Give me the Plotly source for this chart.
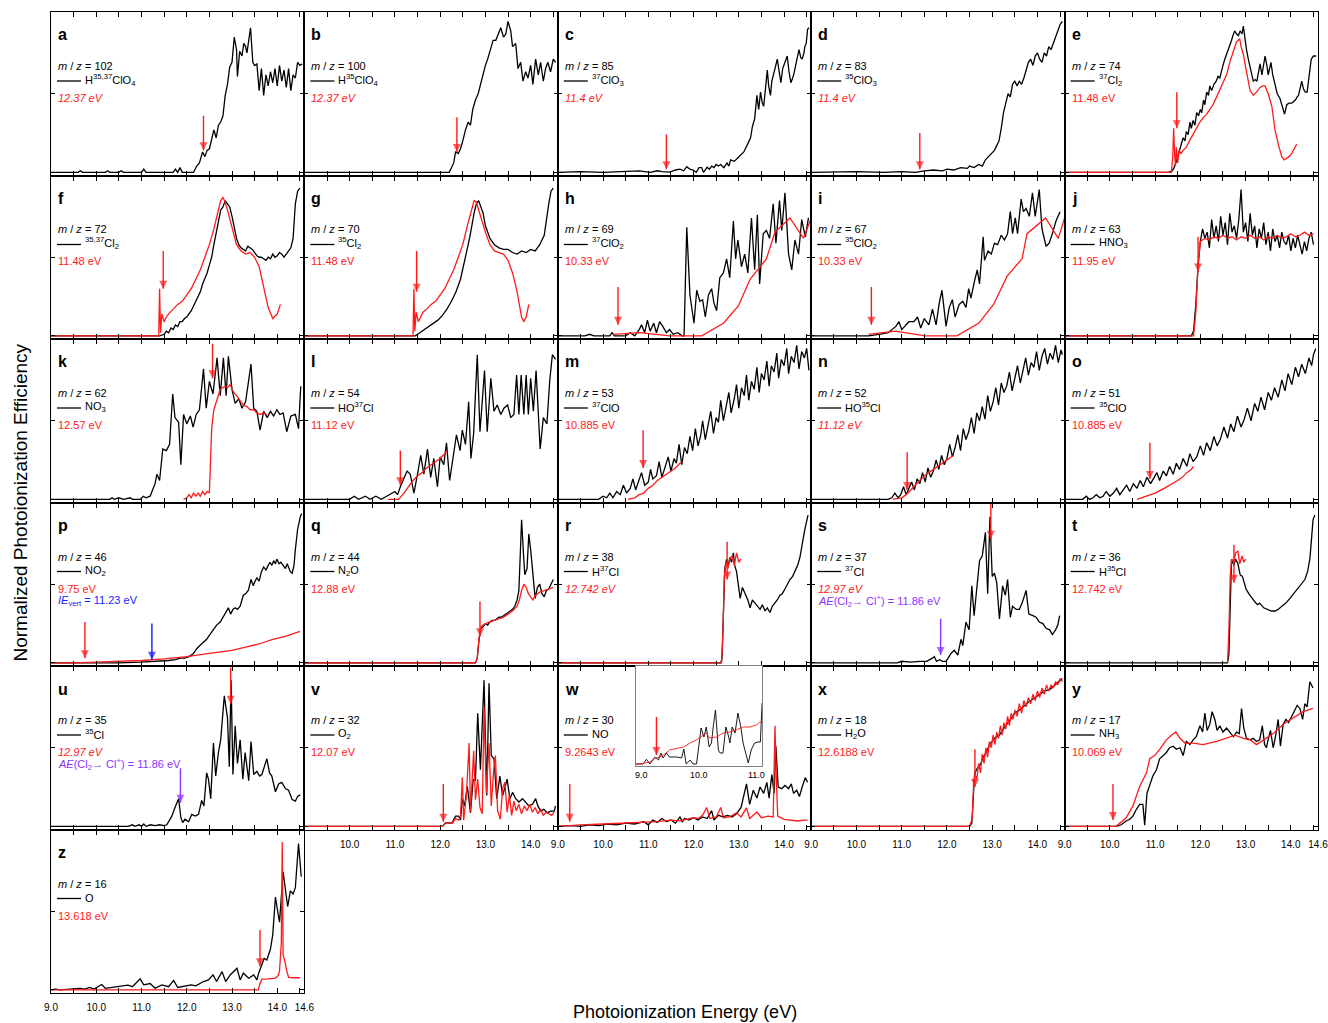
import plotly.graph_objects as go

# ---------------------------------------------------------------- colours / fonts
RED = "#ff1a1a"
BLACK = "#000000"
BLUE = "#1a1aff"
PURPLE = "#8c33ff"
FONT = "Liberation Sans, Arial, Helvetica, sans-serif"

# ---------------------------------------------------------------- measured PIE curves (photon energy eV, normalized signal)
a_black = [(9.0,0),(9.6,0),(9.65,1),(9.7,0),(10.2,0),(10.25,1),(10.3,0),(10.5,0),(10.55,1),(10.6,0),(11.0,0),(11.05,2),(11.1,0),(11.7,0),(11.75,2),(11.8,0),(11.85,3),(11.9,0),(12.15,0),(12.22,4),(12.28,6),(12.35,13),(12.4,10),(12.45,14),(12.5,15),(12.55,22),(12.6,27),(12.65,22),(12.7,30),(12.75,32),(12.8,36),(12.85,49),(12.9,56),(12.95,67),(13.0,70),(13.05,86),(13.1,78),(13.12,61),(13.17,77),(13.22,74),(13.26,82),(13.3,80),(13.33,76),(13.37,84),(13.41,92),(13.46,70),(13.5,68),(13.55,69),(13.6,52),(13.65,66),(13.7,49),(13.75,62),(13.8,55),(13.85,64),(13.9,57),(13.95,66),(14.0,55),(14.05,68),(14.1,58),(14.15,65),(14.2,54),(14.25,66),(14.3,52),(14.35,62),(14.4,60),(14.45,70),(14.5,68),(14.55,69)]

b_black = [(9.0,0),(12.2,0),(12.3,6),(12.34,13),(12.4,12),(12.45,15),(12.5,20),(12.56,27),(12.62,32),(12.67,30),(12.72,40),(12.78,46),(12.84,50),(12.89,56),(12.95,62),(13.0,68),(13.05,72),(13.11,79),(13.17,84),(13.23,84),(13.28,88),(13.34,92),(13.4,86),(13.45,88),(13.5,96),(13.56,90),(13.6,80),(13.67,82),(13.72,66),(13.78,70),(13.83,58),(13.89,64),(13.94,60),(14.0,68),(14.05,56),(14.11,72),(14.17,62),(14.22,70),(14.28,58),(14.33,66),(14.38,70),(14.44,64),(14.5,72),(14.55,70)]

c_black = [(9.0,0),(9.5,0.5),(10.0,0),(10.4,0.5),(10.8,1),(11.04,0),(11.2,1),(11.3,0.5),(11.48,0.2),(11.6,1.5),(11.7,2),(11.78,1),(11.85,3.6),(11.92,2),(11.99,1.5),(12.06,0),(12.12,3),(12.18,3),(12.22,0),(12.3,3.2),(12.35,2),(12.4,4),(12.45,3),(12.5,5),(12.55,4),(12.6,5),(12.67,3),(12.74,6),(12.78,4),(12.82,8),(12.9,7),(12.97,9),(13.04,11),(13.11,13),(13.18,17),(13.26,22),(13.3,29),(13.35,34),(13.4,49),(13.44,40),(13.48,51),(13.52,44),(13.55,42),(13.6,58),(13.63,65),(13.66,55),(13.7,49),(13.73,58),(13.76,61),(13.8,66),(13.85,72),(13.89,63),(13.93,57),(13.97,66),(14.02,70),(14.07,74),(14.11,64),(14.15,57),(14.19,60),(14.22,63),(14.27,70),(14.33,78),(14.37,73),(14.4,72),(14.44,76),(14.46,80),(14.49,82),(14.52,91),(14.55,92)]

d_black = [(9.0,0),(10.0,0.5),(10.6,0),(11.0,0.5),(11.3,0),(11.5,1),(11.7,1.5),(11.9,1),(12.0,2),(12.15,1.5),(12.3,3),(12.45,2.5),(12.5,4),(12.6,3),(12.7,5),(12.78,4),(12.85,8),(12.95,11),(13.05,14),(13.1,17),(13.15,20),(13.2,28),(13.25,38),(13.3,44),(13.35,50),(13.4,48),(13.45,56),(13.5,58),(13.55,55),(13.6,58),(13.65,56),(13.7,60),(13.75,66),(13.8,70),(13.85,72),(13.9,68),(13.95,74),(14.0,76),(14.05,72),(14.1,70),(14.15,76),(14.2,74),(14.25,80),(14.3,78),(14.35,82),(14.4,86),(14.45,90),(14.5,94),(14.55,96)]

e_black = [(9.0,0),(11.3,0),(11.38,1),(11.42,3),(11.47,7),(11.54,13.5),(11.58,18),(11.62,22),(11.66,20),(11.69,26),(11.73,24),(11.77,32),(11.8,28),(11.84,33),(11.88,30),(11.92,38),(11.96,36),(12.0,40),(12.03,38),(12.07,46),(12.1,43),(12.14,51),(12.18,49),(12.21,55),(12.25,52),(12.3,56),(12.35,58),(12.39,61),(12.43,60),(12.47,66),(12.5,68),(12.54,72),(12.58,75),(12.61,78),(12.65,80),(12.69,84),(12.72,87),(12.76,90),(12.8,88),(12.84,87),(12.88,90),(12.92,88),(12.95,93),(12.98,86),(13.02,78),(13.06,72),(13.1,66),(13.13,62),(13.17,58),(13.21,59),(13.25,58),(13.28,63),(13.32,69),(13.36,62),(13.4,70),(13.43,74),(13.47,68),(13.5,62),(13.53,66),(13.56,70),(13.6,62),(13.65,55),(13.7,50),(13.76,47),(13.81,42),(13.86,37),(13.91,43),(13.96,44),(14.02,44),(14.06,45),(14.1,46),(14.14,48),(14.17,49),(14.21,54),(14.24,58),(14.28,53),(14.32,51),(14.36,51),(14.4,60),(14.45,72),(14.5,74),(14.56,74)]
e_red = [(9.0,0),(11.36,0),(11.39,10),(11.41,28),(11.43,12),(11.45,4),(11.47,16),(11.5,6),(11.53,14),(11.57,12),(11.62,14),(11.69,16),(11.76,20),(11.84,24),(11.92,28),(11.99,32),(12.07,35),(12.14,37),(12.21,40),(12.28,43),(12.36,48),(12.43,52),(12.5,57),(12.58,62),(12.65,70),(12.73,77),(12.8,83),(12.84,84),(12.87,85),(12.9,80),(12.95,75),(13.02,64),(13.1,52),(13.17,49),(13.24,51),(13.32,54),(13.38,55),(13.43,55),(13.5,50),(13.58,42),(13.65,27),(13.73,17),(13.8,10),(13.85,8),(13.91,9),(13.96,10),(14.02,12),(14.08,15),(14.13,18)]

f_black = [(9.0,0),(11.4,0),(11.5,1),(11.55,3),(11.6,2),(11.65,5),(11.7,4),(11.75,7),(11.8,6),(11.85,9),(11.9,9),(11.95,11),(12.0,12),(12.05,14),(12.1,16),(12.15,19),(12.2,22),(12.25,25),(12.3,28),(12.35,33),(12.4,36),(12.45,40),(12.5,45),(12.55,50),(12.6,58),(12.65,66),(12.7,74),(12.75,80),(12.8,82),(12.85,86),(12.9,84),(12.95,82),(13.0,76),(13.05,68),(13.1,62),(13.15,58),(13.2,56),(13.25,55),(13.3,54),(13.35,57),(13.4,56),(13.45,55),(13.5,53),(13.55,51),(13.6,50),(13.65,50),(13.7,49),(13.75,48),(13.8,50),(13.85,49),(13.9,52),(13.95,50),(14.0,51),(14.05,53),(14.1,52),(14.15,50),(14.2,52),(14.25,54),(14.3,56),(14.35,62),(14.4,84),(14.45,92),(14.5,94)]
f_red = [(9.0,0),(11.38,0),(11.4,30),(11.42,2),(11.45,14),(11.5,9),(11.55,12),(11.6,14),(11.7,17),(11.8,20),(11.9,22),(12.0,26),(12.1,30),(12.2,36),(12.3,42),(12.4,50),(12.5,58),(12.6,68),(12.7,80),(12.75,86),(12.8,88),(12.85,85),(12.9,80),(13.0,68),(13.1,58),(13.2,54),(13.3,52),(13.4,53),(13.5,50),(13.6,44),(13.7,32),(13.8,18),(13.9,11),(14.0,14),(14.07,20)]

g_black = [(9.0,0),(11.45,0),(11.55,2),(11.65,4),(11.75,6),(11.85,8),(11.95,10),(12.05,13),(12.15,17),(12.25,22),(12.35,28),(12.45,36),(12.55,48),(12.65,62),(12.75,78),(12.8,84),(12.85,86),(12.9,82),(12.95,78),(13.0,70),(13.1,62),(13.2,58),(13.3,56),(13.4,55),(13.5,55),(13.6,53),(13.7,52),(13.8,54),(13.9,53),(14.0,55),(14.1,54),(14.2,58),(14.3,64),(14.4,84),(14.45,92),(14.5,94)]
g_red = [(9.0,0),(11.4,0),(11.42,30),(11.44,3),(11.47,15),(11.52,9),(11.57,12),(11.62,15),(11.7,17),(11.8,20),(11.9,22),(12.0,26),(12.1,30),(12.2,36),(12.3,42),(12.4,50),(12.5,58),(12.6,70),(12.7,82),(12.75,86),(12.8,85),(12.85,80),(12.9,76),(13.0,66),(13.1,58),(13.2,54),(13.3,53),(13.4,52),(13.5,48),(13.6,40),(13.7,28),(13.8,12),(13.85,9),(13.9,12),(13.96,20)]

h_black = [(9.0,0),(9.6,0),(9.7,1),(9.8,0),(10.15,0),(10.2,2),(10.25,0),(10.5,0),(10.6,2),(10.7,0),(10.8,4),(10.85,7),(10.92,2),(10.98,10),(11.04,3),(11.12,8),(11.18,2),(11.25,9),(11.32,6),(11.4,2),(11.47,4),(11.55,1),(11.65,2),(11.75,0),(11.79,0),(11.85,69),(11.92,26),(12.01,8),(12.07,29),(12.14,22),(12.2,23),(12.26,12),(12.33,26),(12.4,30),(12.45,21),(12.51,16),(12.58,37),(12.66,40),(12.73,49),(12.8,37),(12.88,73),(12.93,49),(12.98,61),(13.06,44),(13.13,52),(13.2,40),(13.28,75),(13.35,42),(13.41,77),(13.46,33),(13.54,65),(13.61,67),(13.68,62),(13.76,84),(13.82,59),(13.9,86),(13.95,67),(14.02,91),(14.1,52),(14.17,42),(14.24,61),(14.32,52),(14.39,74),(14.47,63),(14.54,75)]
h_red = [(10.22,1),(10.81,2),(11.48,0),(12.18,0),(12.66,8),(12.99,19),(13.25,36),(13.61,49),(13.8,66),(14.13,75),(14.43,62),(14.6,75)]

i_black = [(9.0,0),(10.27,0),(10.5,1),(10.7,2),(10.87,6),(10.94,9),(11.0,4),(11.16,9),(11.27,9),(11.35,12),(11.42,5),(11.5,11),(11.6,7),(11.68,17),(11.76,7),(11.83,21),(11.89,29),(11.94,18),(11.98,6),(12.05,18),(12.12,23),(12.18,12),(12.27,20),(12.35,22),(12.42,18),(12.48,30),(12.53,24),(12.61,35),(12.67,42),(12.72,33),(12.8,63),(12.83,48),(12.91,54),(12.98,52),(13.05,59),(13.12,58),(13.2,64),(13.27,61),(13.34,65),(13.4,79),(13.45,65),(13.51,75),(13.56,65),(13.64,87),(13.69,79),(13.75,81),(13.82,76),(13.89,91),(13.95,76),(14.04,93),(14.1,68),(14.19,57),(14.26,59),(14.33,65),(14.41,73),(14.5,79)]
i_red = [(10.27,1),(10.86,3),(11.52,0),(12.22,0),(12.7,8),(13.03,20),(13.33,38),(13.66,49),(13.77,65),(14.18,75),(14.46,62),(14.6,75)]

j_black = [(9.0,0),(11.8,0),(11.85,3),(11.9,20),(11.95,45),(12.0,60),(12.05,68),(12.1,62),(12.15,66),(12.2,56),(12.25,74),(12.3,62),(12.35,70),(12.4,60),(12.45,76),(12.5,64),(12.55,72),(12.6,58),(12.65,78),(12.7,66),(12.75,70),(12.8,62),(12.85,74),(12.9,93),(12.95,66),(13.0,72),(13.05,60),(13.1,78),(13.15,64),(13.2,70),(13.25,56),(13.3,68),(13.35,62),(13.4,72),(13.45,58),(13.5,66),(13.55,54),(13.6,68),(13.65,60),(13.7,64),(13.75,56),(13.8,66),(13.85,60),(13.9,58),(13.95,64),(14.0,54),(14.05,62),(14.1,56),(14.15,64),(14.2,58),(14.25,52),(14.3,60),(14.35,54),(14.4,62),(14.45,66),(14.5,58)]
j_red = [(9.0,0),(11.85,0),(11.9,15),(11.95,45),(12.0,60),(12.1,62),(12.2,61),(12.3,63),(12.4,62),(12.5,64),(12.6,62),(12.7,63),(12.8,61),(12.9,63),(13.0,62),(13.1,64),(13.2,62),(13.3,63),(13.4,61),(13.5,63),(13.6,62),(13.7,64),(13.8,62),(13.9,63),(14.0,65),(14.1,63),(14.2,64),(14.3,66),(14.4,64),(14.5,65)]

k_black = [(9.0,0),(10.3,0),(10.35,1),(10.4,0),(10.5,1),(10.6,0),(10.75,1),(10.8,0),(10.97,0),(11.04,2),(11.1,1),(11.19,2),(11.26,7),(11.3,10),(11.34,16),(11.4,12),(11.47,32),(11.55,31),(11.62,35),(11.69,67),(11.74,52),(11.82,49),(11.87,22),(11.93,54),(12.0,48),(12.08,53),(12.14,46),(12.21,54),(12.28,57),(12.37,83),(12.43,58),(12.5,75),(12.58,67),(12.67,90),(12.74,66),(12.81,90),(12.87,66),(12.92,91),(13.0,70),(13.07,61),(13.15,64),(13.22,58),(13.3,62),(13.42,86),(13.48,58),(13.55,56),(13.62,44),(13.7,56),(13.78,52),(13.85,56),(13.92,53),(13.99,57),(14.06,54),(14.13,55),(14.21,43),(14.3,53),(14.4,54),(14.47,45),(14.52,72)]
k_red = [(11.93,0),(12.0,1),(12.05,3),(12.1,1),(12.15,4),(12.2,2),(12.25,4),(12.3,2),(12.35,5),(12.4,3),(12.45,5),(12.5,4),(12.52,20),(12.55,45),(12.6,57),(12.65,62),(12.7,66),(12.74,70),(12.8,71),(12.85,72),(12.9,71),(12.96,73),(13.0,70),(13.04,68),(13.1,66),(13.19,62),(13.25,60),(13.33,59),(13.4,57),(13.48,57),(13.55,55),(13.62,54),(13.7,55),(13.77,54)]

l_black = [(9.0,0),(10.0,0),(10.1,2),(10.2,0),(10.35,2),(10.45,0),(10.58,2),(10.7,0),(11.0,5),(11.06,3),(11.12,8),(11.2,14),(11.27,18),(11.34,16),(11.42,4),(11.5,16),(11.57,28),(11.64,16),(11.72,32),(11.79,14),(11.86,26),(11.94,8),(12.0,27),(12.08,22),(12.14,36),(12.21,12),(12.29,27),(12.36,41),(12.44,31),(12.49,44),(12.56,35),(12.63,62),(12.68,26),(12.74,42),(12.82,92),(12.88,43),(12.93,62),(12.98,82),(13.04,43),(13.12,77),(13.19,56),(13.26,60),(13.34,54),(13.41,58),(13.49,60),(13.56,52),(13.63,54),(13.69,79),(13.74,54),(13.79,79),(13.85,54),(13.9,79),(13.95,54),(14.0,77),(14.06,56),(14.12,82),(14.21,32),(14.28,52),(14.36,48),(14.42,75),(14.48,92),(14.55,89)]
l_red = [(10.85,0),(11.08,0),(11.2,4),(11.3,8),(11.4,12),(11.5,15),(11.6,17),(11.7,20),(11.8,22),(11.9,24),(12.0,26),(12.1,29),(12.15,31)]

m_black = [(9.0,0),(9.9,0),(10.0,2),(10.08,1),(10.15,4),(10.22,1),(10.3,5),(10.38,3),(10.45,9),(10.52,4),(10.6,7),(10.66,13),(10.72,6),(10.8,12),(10.85,17),(10.92,9),(11.0,11),(11.05,19),(11.1,13),(11.18,15),(11.24,24),(11.3,14),(11.38,21),(11.44,27),(11.5,18),(11.57,26),(11.62,23),(11.68,35),(11.74,22),(11.8,33),(11.86,29),(11.92,40),(11.98,31),(12.04,45),(12.1,34),(12.16,41),(12.2,50),(12.26,38),(12.32,47),(12.38,56),(12.44,42),(12.5,52),(12.55,49),(12.6,63),(12.66,50),(12.72,58),(12.78,68),(12.83,55),(12.9,64),(12.95,73),(13.0,58),(13.06,71),(13.12,66),(13.17,79),(13.22,63),(13.28,75),(13.34,70),(13.4,84),(13.45,68),(13.5,80),(13.56,76),(13.62,88),(13.67,72),(13.72,85),(13.78,81),(13.84,93),(13.88,77),(13.94,89),(14.0,85),(14.06,96),(14.1,80),(14.16,91),(14.22,87),(14.28,98),(14.33,83),(14.39,94),(14.45,90),(14.5,96),(14.55,82)]
m_red = [(10.55,0),(10.7,1),(10.8,3),(10.9,4),(11.0,7),(11.1,9),(11.2,12),(11.3,14),(11.4,16),(11.5,18),(11.6,20),(11.7,23),(11.75,24)]

n_black = [(9.0,0),(10.7,0),(10.78,1),(10.85,4),(10.92,1),(10.98,3),(11.04,8),(11.1,3),(11.16,7),(11.22,11),(11.28,6),(11.34,13),(11.4,10),(11.46,17),(11.52,11),(11.58,20),(11.64,14),(11.7,18),(11.76,25),(11.82,19),(11.88,28),(11.94,22),(12.0,26),(12.06,35),(12.12,27),(12.18,33),(12.24,41),(12.3,31),(12.36,45),(12.42,38),(12.48,43),(12.54,52),(12.6,42),(12.66,55),(12.72,50),(12.78,59),(12.84,51),(12.9,66),(12.96,56),(13.02,62),(13.08,71),(13.14,60),(13.2,74),(13.26,68),(13.32,72),(13.38,81),(13.44,69),(13.5,78),(13.56,85),(13.62,74),(13.68,83),(13.74,90),(13.8,79),(13.86,87),(13.92,84),(13.98,94),(14.04,82),(14.1,91),(14.16,96),(14.22,86),(14.28,93),(14.34,89),(14.4,98),(14.46,87),(14.52,95),(14.55,92)]
n_red = [(10.8,0),(11.0,1),(11.1,3),(11.2,6),(11.3,9),(11.4,12),(11.5,15),(11.6,17),(11.7,19),(11.8,21),(11.9,23),(12.0,25),(12.1,27),(12.15,28)]

o_black = [(9.0,0),(9.4,0),(9.48,2),(9.55,0),(9.63,1),(9.7,3),(9.78,1),(9.85,2),(9.92,5),(10.0,2),(10.08,4),(10.15,7),(10.22,3),(10.3,6),(10.37,9),(10.44,5),(10.52,10),(10.6,7),(10.67,12),(10.74,8),(10.82,14),(10.9,10),(10.96,13),(11.04,17),(11.1,12),(11.18,18),(11.25,15),(11.32,21),(11.4,16),(11.47,23),(11.54,19),(11.62,26),(11.7,21),(11.77,29),(11.84,24),(11.92,27),(12.0,34),(12.07,28),(12.14,36),(12.22,31),(12.3,40),(12.37,34),(12.44,38),(12.52,46),(12.6,39),(12.67,48),(12.74,43),(12.82,53),(12.9,46),(12.97,51),(13.04,58),(13.12,50),(13.2,61),(13.27,56),(13.34,65),(13.42,57),(13.5,68),(13.57,63),(13.64,71),(13.72,65),(13.8,76),(13.87,69),(13.94,80),(14.02,73),(14.1,84),(14.17,78),(14.24,86),(14.32,80),(14.4,90),(14.46,85),(14.5,92),(14.55,96)]
o_red = [(10.6,0),(10.8,2),(11.0,4),(11.2,7),(11.4,10),(11.5,12),(11.6,14),(11.7,17),(11.8,19),(11.85,21)]

p_black = [(9.0,0),(10.5,0),(11.0,0.5),(11.4,1),(11.6,1.5),(11.75,2),(11.85,3),(11.95,3),(12.05,4),(12.15,6),(12.22,9),(12.29,11),(12.36,13),(12.44,15),(12.51,18),(12.59,21),(12.66,24),(12.74,26),(12.8,29),(12.85,31),(12.92,35),(12.97,31),(13.02,34),(13.07,35),(13.12,34),(13.18,36),(13.22,40),(13.25,43),(13.3,44),(13.36,46),(13.42,53),(13.47,49),(13.51,52),(13.55,54),(13.6,52),(13.65,58),(13.7,61),(13.75,59),(13.8,62),(13.84,64),(13.88,62),(13.92,65),(13.96,63),(13.99,66),(14.04,63),(14.08,64),(14.13,62),(14.18,60),(14.22,63),(14.25,61),(14.29,58),(14.33,57),(14.37,62),(14.4,72),(14.45,85),(14.51,93),(14.54,95)]
p_red = [(9.0,0),(9.5,0),(10.0,0.5),(10.5,1),(11.0,1.5),(11.5,2.5),(12.0,4),(12.5,6),(13.0,8),(13.3,10),(13.6,12),(13.9,15),(14.2,17),(14.5,20)]

q_black = [(9.0,0),(12.78,0),(12.82,3),(12.86,15),(12.9,22),(12.95,23),(13.0,25),(13.05,24),(13.1,26),(13.15,27),(13.2,27),(13.25,28),(13.3,29),(13.35,29),(13.4,30),(13.45,31),(13.5,32),(13.55,33),(13.6,34),(13.65,36),(13.7,40),(13.74,46),(13.78,70),(13.8,91),(13.84,70),(13.87,56),(13.92,60),(13.96,82),(14.0,72),(14.05,55),(14.1,41),(14.15,48),(14.2,50),(14.25,44),(14.3,42),(14.35,46),(14.4,47),(14.45,50),(14.5,53)]
q_red = [(9.0,0),(12.78,0),(12.82,3),(12.86,16),(12.9,23),(12.95,24),(13.0,25),(13.1,26),(13.2,27),(13.3,28),(13.4,29),(13.5,31),(13.6,33),(13.7,36),(13.75,40),(13.8,46),(13.85,50),(13.9,48),(13.95,44),(14.0,42),(14.05,40),(14.1,43),(14.2,45),(14.3,46),(14.4,47),(14.5,48)]

r_black = [(9.0,0),(12.6,0),(12.63,3),(12.66,30),(12.69,60),(12.73,66),(12.77,62),(12.8,67),(12.84,64),(12.88,70),(12.91,62),(12.95,58),(13.0,45),(13.03,41),(13.08,48),(13.14,44),(13.2,40),(13.25,35),(13.3,40),(13.36,38),(13.42,36),(13.47,34),(13.52,37),(13.58,33),(13.63,35),(13.69,32),(13.74,36),(13.8,38),(13.85,40),(13.91,43),(13.96,44),(14.02,47),(14.08,50),(14.13,53),(14.19,55),(14.24,58),(14.3,62),(14.35,67),(14.4,76),(14.46,85),(14.53,94)]
r_red = [(9.0,0),(12.62,0),(12.65,20),(12.68,55),(12.72,64),(12.76,60),(12.8,66),(12.85,68),(12.9,62),(12.95,70),(13.0,64),(13.05,66)]

s_black = [(9.0,0),(10.9,0),(11.0,1),(11.2,0.5),(11.4,1),(11.55,1),(11.68,3),(11.72,4),(11.77,1),(11.84,2),(11.9,1),(11.98,1),(12.09,6),(12.16,8),(12.24,5),(12.31,15),(12.35,11),(12.42,26),(12.49,21),(12.55,49),(12.6,30),(12.66,47),(12.72,65),(12.78,68),(12.85,83),(12.9,44),(12.95,93),(13.0,55),(13.05,57),(13.1,51),(13.16,28),(13.23,49),(13.29,43),(13.34,53),(13.4,29),(13.45,36),(13.53,34),(13.6,34),(13.66,38),(13.75,46),(13.81,31),(13.9,30),(13.97,29),(14.04,26),(14.12,25),(14.19,22),(14.27,21),(14.33,18),(14.4,21),(14.45,24),(14.49,30)]

t_black = [(9.0,0),(12.6,0),(12.63,5),(12.66,40),(12.69,66),(12.74,62),(12.78,66),(12.83,63),(12.88,56),(12.93,55),(12.97,50),(13.01,47),(13.07,44),(13.14,41),(13.2,39),(13.26,37),(13.31,38),(13.4,35),(13.49,34),(13.57,33),(13.65,33),(13.72,34),(13.8,36),(13.89,38),(13.98,41),(14.06,44),(14.15,47),(14.22,50),(14.31,53),(14.37,58),(14.42,66),(14.46,80),(14.49,91),(14.53,94)]
t_red = [(12.6,0),(12.63,20),(12.66,55),(12.69,66),(12.74,64),(12.78,70),(12.83,71),(12.87,63),(12.92,68),(12.96,64),(13.0,66)]

u_black = [(9.0,0),(10.7,0),(10.8,1),(10.85,0),(10.95,1),(11.0,0),(11.05,1.5),(11.1,0),(11.2,1),(11.3,0.5),(11.4,1),(11.5,0.5),(11.56,1),(11.67,6.5),(11.74,12),(11.82,17.6),(11.87,5.5),(11.91,2.4),(11.96,4.5),(12.04,2.9),(12.11,7.6),(12.19,6.5),(12.26,7.6),(12.33,16.5),(12.38,13),(12.44,34),(12.48,30),(12.53,17.6),(12.59,53),(12.64,32),(12.7,47),(12.75,55),(12.83,83),(12.9,69),(12.94,38),(12.98,93),(13.02,33),(13.07,64),(13.12,40),(13.18,55),(13.24,30),(13.29,47),(13.37,29),(13.42,54),(13.48,33),(13.55,35),(13.61,32),(13.66,33),(13.77,43),(13.83,34),(13.88,32),(13.96,22),(14.03,27),(14.1,28),(14.18,24),(14.25,23),(14.33,17),(14.4,16),(14.45,19),(14.51,20)]

v_black = [(9.0,0),(12.05,0),(12.12,2.4),(12.2,2),(12.27,2.4),(12.34,6.5),(12.41,6.5),(12.45,4),(12.49,17.6),(12.54,13),(12.6,25.5),(12.67,8.6),(12.73,30),(12.78,29),(12.83,72),(12.89,36),(12.97,93),(13.03,19.6),(13.08,91),(13.13,45),(13.19,43),(13.25,17.6),(13.32,32),(13.38,19.6),(13.44,25.5),(13.48,30),(13.54,17.6),(13.6,21.6),(13.67,17.6),(13.74,15.5),(13.82,17.6),(13.89,15.5),(13.96,13),(14.04,14),(14.11,17.6),(14.16,13),(14.22,9.7),(14.29,10.8),(14.37,8.6),(14.44,9.7),(14.52,9.7),(14.55,13)]
v_red = [(9.0,0),(12.05,0),(12.12,2),(12.2,2.5),(12.27,2),(12.34,5),(12.41,4),(12.45,6),(12.49,31),(12.52,4),(12.58,20),(12.64,53),(12.67,9),(12.71,36),(12.74,48),(12.78,17),(12.83,30),(12.88,12),(12.93,8),(12.97,76),(13.02,21),(13.08,53),(13.13,13),(13.18,35),(13.22,45),(13.27,10),(13.33,4.5),(13.38,24),(13.43,28),(13.48,9),(13.53,20),(13.58,7),(13.63,16),(13.68,10),(13.74,14),(13.8,8),(13.86,13),(13.92,10),(13.98,14),(14.04,9),(14.1,12),(14.16,8),(14.22,11),(14.28,7),(14.34,9),(14.4,8),(14.46,7),(14.52,9)]

w_black = [(9.0,0),(9.3,0.5),(9.5,0),(9.7,1),(9.9,0.5),(10.1,1.5),(10.3,1),(10.5,2),(10.7,1.5),(10.9,3),(11.0,1),(11.1,4),(11.2,2.5),(11.3,5),(11.4,3),(11.5,4),(11.6,2),(11.7,6),(11.75,3),(11.8,5),(11.9,4),(12.0,5.5),(12.1,4),(12.2,6),(12.3,5),(12.4,10),(12.45,4),(12.55,7),(12.65,6),(12.75,7),(12.85,6),(12.95,8),(13.05,12),(13.1,17.6),(13.17,27),(13.24,14),(13.32,23),(13.4,18),(13.47,25),(13.55,21),(13.62,28),(13.67,18),(13.73,33),(13.78,21),(13.82,51),(13.87,25),(13.95,24),(14.02,26),(14.1,24),(14.16,27),(14.21,21),(14.28,23),(14.34,19),(14.4,25),(14.47,31),(14.52,28)]
w_red = [(9.0,0),(9.5,1),(10.0,1.5),(10.5,2),(10.97,2.4),(11.2,3),(11.5,4),(11.7,3.5),(11.99,5.5),(12.1,5),(12.2,7),(12.29,12),(12.36,5),(12.5,6),(12.6,12),(12.66,5.5),(12.8,6),(12.95,8.6),(13.05,6),(13.17,11.8),(13.24,5),(13.4,9.1),(13.5,5.5),(13.65,6.5),(13.76,6),(13.78,40),(13.8,64),(13.83,30),(13.86,6.5),(14.0,4.5),(14.15,4),(14.3,3.4),(14.45,4),(14.52,3.9)]

# NO threshold region (inset of panel w)
w_inset_black = [(8.9,0),(9.03,0),(9.09,4.7),(9.15,0),(9.24,7),(9.3,4),(9.34,11),(9.38,6),(9.44,11),(9.49,7),(9.62,7),(9.7,6),(9.74,15),(9.78,0),(9.85,4),(9.9,0),(9.96,0),(10.0,17),(10.04,36),(10.09,27),(10.13,37),(10.18,17),(10.22,21),(10.25,37),(10.29,54),(10.34,14),(10.37,11),(10.42,11),(10.47,37),(10.52,27),(10.54,21),(10.58,37),(10.63,31),(10.68,51),(10.73,37),(10.77,21),(10.81,11),(10.86,1),(10.91,14),(10.97,21),(11.03,22),(11.07,22),(11.1,61)]
w_inset_red = [(8.9,0),(9.03,0.5),(9.15,2),(9.24,6),(9.32,7),(9.41,10),(9.49,14),(9.62,16),(9.73,17),(9.85,21),(9.96,24),(10.08,29),(10.13,31),(10.19,26),(10.31,27),(10.42,31),(10.54,32),(10.65,34),(10.77,37),(10.89,37),(11.0,39),(11.06,42),(11.1,42)]

x_black = [(9.0,0),(12.5,0),(12.55,2),(12.58,20),(12.61,33),(12.65,36),(12.7,38),(12.75,40),(12.8,44),(12.85,46),(12.9,49),(12.94,52),(13.0,54),(13.05,56),(13.1,57),(13.16,58),(13.2,60),(13.25,62),(13.3,64),(13.38,68),(13.45,70),(13.5,72),(13.6,74),(13.71,77),(13.8,79),(13.9,81),(14.0,83),(14.05,84),(14.15,86),(14.27,87),(14.35,89),(14.42,91),(14.49,93),(14.55,94)]
x_red = [(9.0,0),(12.5,0),(12.56,5),(12.59,28),(12.62,33),(12.66,30),(12.7,40),(12.74,34),(12.78,46),(12.82,40),(12.86,50),(12.9,44),(12.94,54),(12.98,50),(13.02,58),(13.06,52),(13.1,60),(13.14,56),(13.18,64),(13.22,58),(13.26,66),(13.3,62),(13.34,70),(13.38,64),(13.42,72),(13.46,68),(13.5,74),(13.55,70),(13.6,78),(13.65,72),(13.7,80),(13.75,76),(13.8,82),(13.85,78),(13.9,84),(13.95,80),(14.0,86),(14.05,82),(14.1,88),(14.15,84),(14.2,90),(14.25,86),(14.3,90),(14.35,88),(14.4,92),(14.45,90),(14.5,94),(14.55,92)]

y_black = [(9.0,0),(10.14,0),(10.25,1),(10.36,3.4),(10.44,4.5),(10.51,6.5),(10.59,11),(10.66,14),(10.73,14),(10.77,0.7),(10.82,21),(10.88,25.5),(10.95,32),(11.03,36),(11.1,43),(11.18,45),(11.25,47),(11.32,50),(11.4,51),(11.47,49),(11.55,50),(11.62,45),(11.69,54),(11.77,52),(11.84,55),(11.91,57),(11.99,64),(12.05,60),(12.1,72),(12.15,61),(12.21,65),(12.26,73),(12.32,68),(12.37,61),(12.43,64),(12.5,60),(12.58,62.5),(12.65,60),(12.73,57),(12.8,60),(12.86,59),(12.91,75),(12.96,62.5),(13.02,56),(13.1,55),(13.17,56),(13.24,54),(13.31,55),(13.37,64),(13.42,52),(13.46,50),(13.49,54),(13.55,61),(13.61,50),(13.66,57),(13.72,68),(13.77,51),(13.83,65),(13.89,68),(13.95,66),(14.02,70),(14.09,74),(14.14,77),(14.2,75),(14.26,68),(14.31,78),(14.36,76),(14.42,92),(14.49,88)]
y_red = [(9.0,0),(10.14,0),(10.36,5.5),(10.51,13),(10.66,25.5),(10.81,34),(10.88,43),(10.99,45),(11.1,49),(11.25,55),(11.36,58),(11.46,60),(11.55,56),(11.66,53),(11.84,53),(12.06,52),(12.36,54),(12.58,56),(12.77,58),(12.95,56),(13.1,55),(13.24,52),(13.39,55),(13.61,59),(13.83,65),(14.05,69),(14.27,73),(14.49,75)]

z_black = [(9.0,0),(9.1,0.5),(9.2,0),(9.5,0.5),(9.64,1),(9.75,0.5),(9.85,1.5),(9.95,0.5),(10.12,3.4),(10.2,1),(10.35,1.5),(10.45,2),(10.55,2.5),(10.7,3),(10.8,2),(10.97,7),(11.05,3.2),(11.19,4),(11.3,1),(11.45,3.2),(11.6,2),(11.71,6),(11.8,1.5),(11.95,2.5),(12.1,3.2),(12.2,2.5),(12.3,4),(12.37,5.3),(12.48,6.3),(12.58,9.5),(12.66,5.3),(12.78,11.6),(12.86,5.3),(12.96,9.5),(13.11,13.7),(13.18,6.3),(13.25,10.6),(13.37,7.4),(13.48,9.5),(13.55,6.3),(13.59,10.6),(13.66,15.9),(13.71,20),(13.77,19),(13.85,26),(13.9,35),(13.96,59),(14.01,50),(14.05,43),(14.13,75),(14.18,65),(14.23,53),(14.29,63),(14.35,61),(14.4,65),(14.47,93),(14.53,72)]
z_red = [(9.0,0),(13.58,0),(13.62,4),(13.66,6.8),(13.8,7),(13.9,7.2),(13.96,7.5),(14.02,9),(14.05,12),(14.09,30),(14.11,94),(14.13,22),(14.17,18),(14.21,12),(14.25,8),(14.35,7.7),(14.5,7.7)]

# ---------------------------------------------------------------- panel annotations (ion mass, species, threshold energies)
PANELS = [
    dict(key="a", mz=102, species="H<sup>35,37</sup>ClO<sub>4</sub>", ie=12.37, italic=True, black=a_black, red=None),
    dict(key="b", mz=100, species="H<sup>35</sup>ClO<sub>4</sub>", ie=12.37, italic=True, black=b_black, red=None),
    dict(key="c", mz=85, species="<sup>37</sup>ClO<sub>3</sub>", ie=11.4, italic=True, black=c_black, red=None),
    dict(key="d", mz=83, species="<sup>35</sup>ClO<sub>3</sub>", ie=11.4, italic=True, black=d_black, red=None),
    dict(key="e", mz=74, species="<sup>37</sup>Cl<sub>2</sub>", ie=11.48, italic=False, black=e_black, red=e_red),
    dict(key="f", mz=72, species="<sup>35,37</sup>Cl<sub>2</sub>", ie=11.48, italic=False, black=f_black, red=f_red),
    dict(key="g", mz=70, species="<sup>35</sup>Cl<sub>2</sub>", ie=11.48, italic=False, black=g_black, red=g_red),
    dict(key="h", mz=69, species="<sup>37</sup>ClO<sub>2</sub>", ie=10.33, italic=False, black=h_black, red=h_red),
    dict(key="i", mz=67, species="<sup>35</sup>ClO<sub>2</sub>", ie=10.33, italic=False, black=i_black, red=i_red),
    dict(key="j", mz=63, species="HNO<sub>3</sub>", ie=11.95, italic=False, black=j_black, red=j_red),
    dict(key="k", mz=62, species="NO<sub>3</sub>", ie=12.57, italic=False, black=k_black, red=k_red),
    dict(key="l", mz=54, species="HO<sup>37</sup>Cl", ie=11.12, italic=False, black=l_black, red=l_red),
    dict(key="m", mz=53, species="<sup>37</sup>ClO", ie=10.885, italic=False, black=m_black, red=m_red),
    dict(key="n", mz=52, species="HO<sup>35</sup>Cl", ie=11.12, italic=True, black=n_black, red=n_red),
    dict(key="o", mz=51, species="<sup>35</sup>ClO", ie=10.885, italic=False, black=o_black, red=o_red),
    dict(key="p", mz=46, species="NO<sub>2</sub>", ie=9.75, italic=False, black=p_black, red=p_red,
         extra=("<i>IE</i><sub>vert</sub> = 11.23 eV", BLUE, 11.23)),
    dict(key="q", mz=44, species="N<sub>2</sub>O", ie=12.88, italic=False, black=q_black, red=q_red),
    dict(key="r", mz=38, species="H<sup>37</sup>Cl", ie=12.742, italic=True, black=r_black, red=r_red),
    dict(key="s", mz=37, species="<sup>37</sup>Cl", ie=12.97, italic=True, black=s_black, red=None,
         extra=("<i>AE</i>(Cl<sub>2</sub>\u2192 Cl<sup>+</sup>) = 11.86 eV", PURPLE, 11.86)),
    dict(key="t", mz=36, species="H<sup>35</sup>Cl", ie=12.742, italic=False, black=t_black, red=t_red),
    dict(key="u", mz=35, species="<sup>35</sup>Cl", ie=12.97, italic=True, black=u_black, red=None,
         extra=("<i>AE</i>(Cl<sub>2</sub>\u2192 Cl<sup>+</sup>) = 11.86 eV", PURPLE, 11.86)),
    dict(key="v", mz=32, species="O<sub>2</sub>", ie=12.07, italic=False, black=v_black, red=v_red),
    dict(key="w", mz=30, species="NO", ie=9.2643, italic=False, black=w_black, red=w_red),
    dict(key="x", mz=18, species="H<sub>2</sub>O", ie=12.6188, italic=False, black=x_black, red=x_red),
    dict(key="y", mz=17, species="NH<sub>3</sub>", ie=10.069, italic=False, black=y_black, red=y_red),
    dict(key="z", mz=16, species="O", ie=13.618, italic=False, black=z_black, red=z_red),
]

# arrow tail / head heights (signal units) for the threshold markers
ARROW_Y = {
    "a": (36, 14), "b": (35, 13), "c": (24, 2), "d": (25, 2), "e": (51, 28),
    "f": (54, 30), "g": (54, 28), "h": (31, 7), "i": (31, 7), "j": (63, 41),
    "k": (99, 77), "l": (31, 9), "m": (44, 20), "n": (30, 6), "o": (36, 13),
    "p": (26, 3), "q": (39, 17), "r": (77, 53), "s": (101, 79), "t": (75, 51),
    "u": (101, 78), "v": (27, 3), "w": (27, 3), "x": (49, 25), "y": (27, 4),
    "z": (38, 15),
}
EXTRA_ARROW_Y = {"p": (25, 2), "s": (28, 5), "u": (37, 15)}
INSET_ARROW_Y = (47, 9)

# x ticks every 0.5 eV; labels only along the bottom edge of the grid
TICK_VALUES = [9.0, 9.5, 10.0, 10.5, 11.0, 11.5, 12.0, 12.5, 13.0, 13.5, 14.0, 14.5]
LABELLED = {"v": [10.0, 11.0, 12.0, 13.0, 14.0],
            "w": [9.0, 10.0, 11.0, 12.0, 13.0, 14.0],
            "x": [9.0, 10.0, 11.0, 12.0, 13.0, 14.0],
            "y": [9.0, 10.0, 11.0, 12.0, 13.0, 14.0, 14.6],
            "z": [9.0, 10.0, 11.0, 12.0, 13.0, 14.0, 14.6]}

# ---------------------------------------------------------------- figure geometry
W, H = 1328, 1023
M_L, M_R, M_T, M_B = 51, 10, 12, 30
N_COLS, N_ROWS = 5, 6
PLOT_W = W - M_L - M_R
PLOT_H = H - M_T - M_B
PW = PLOT_W / N_COLS      # panel width in px
PH = PLOT_H / N_ROWS      # panel height in px
X_RANGE = [9.0, 14.6]
Y_RANGE = [-2, 102]


def split(pairs):
    return [p[0] for p in pairs], [p[1] for p in pairs]


def dx(px):
    return px / PW


def dy(px):
    return 1 - px / PH


def arrow_trace(energy, tail, head, colour, xa, ya):
    # shaft from tail to head, arrowhead marker whose tip sits on the head point
    return go.Scatter(x=[energy, energy], y=[tail, head], xaxis=xa, yaxis=ya,
                      mode="lines+markers", line=dict(color=colour, width=1.4),
                      marker=dict(symbol="arrow-down", size=[0, 8], color=colour,
                                  line=dict(width=0)),
                      showlegend=False, hoverinfo="skip")


fig = go.Figure()
layout = {}
annotations = []
shapes = []

for idx, p in enumerate(PANELS):
    row, col = divmod(idx, N_COLS)
    n = idx + 1
    sfx = "" if n == 1 else str(n)
    xa, ya = "x" + sfx, "y" + sfx

    labelled = LABELLED.get(p["key"])
    if labelled:
        major = labelled
        minor_vals = [t for t in TICK_VALUES if t not in labelled]
    else:
        major = TICK_VALUES
        minor_vals = []

    xaxis = dict(
        domain=[col / N_COLS, (col + 1) / N_COLS], anchor=ya, range=X_RANGE,
        showline=True, linecolor=BLACK, linewidth=1, mirror="ticks",
        ticks="inside", ticklen=5, tickwidth=1, tickcolor=BLACK,
        tickmode="array", tickvals=major, ticktext=[f"{t:.1f}" for t in major],
        showticklabels=bool(labelled), ticklabelstandoff=5, automargin=False,
        ticklabeloverflow="allow",
        tickfont=dict(size=10, color=BLACK, family=FONT),
        showgrid=False, zeroline=False,
    )
    if minor_vals:
        xaxis["minor"] = dict(tickmode="array", tickvals=minor_vals, ticks="inside",
                              ticklen=5, tickwidth=1, tickcolor=BLACK, showgrid=False)
    layout["xaxis" + sfx] = xaxis
    layout["yaxis" + sfx] = dict(
        domain=[1 - (row + 1) / N_ROWS, 1 - row / N_ROWS], anchor=xa, range=Y_RANGE,
        showline=True, linecolor=BLACK, linewidth=1, mirror="ticks",
        ticks="inside", ticklen=4, tickwidth=1, tickcolor=BLACK, automargin=False,
        tickvals=[0, 50], showticklabels=False, showgrid=False, zeroline=False,
    )

    bx, by = split(p["black"])
    fig.add_trace(go.Scatter(x=bx, y=by, xaxis=xa, yaxis=ya, mode="lines",
                             line=dict(color=BLACK, width=1.3), showlegend=False,
                             hoverinfo="skip"))
    if p["red"]:
        rx, ry = split(p["red"])
        fig.add_trace(go.Scatter(x=rx, y=ry, xaxis=xa, yaxis=ya, mode="lines",
                                 line=dict(color=RED, width=1.3), showlegend=False,
                                 hoverinfo="skip"))

    xd, yd = xa + " domain", ya + " domain"
    annotations.append(dict(text=f"<b>{p['key']}</b>", x=dx(5), y=dy(23), xref=xd, yref=yd,
                            xanchor="left", yanchor="middle", showarrow=False,
                            font=dict(size=16, color=BLACK, family=FONT)))
    annotations.append(dict(text=f"<i>m</i> / <i>z</i> = {p['mz']}", x=dx(5), y=dy(54),
                            xref=xd, yref=yd, xanchor="left", yanchor="middle", showarrow=False,
                            font=dict(size=11, color=BLACK, family=FONT)))
    shapes.append(dict(type="line", xref=xd, yref=yd, x0=dx(6), x1=dx(30), y0=dy(69), y1=dy(69),
                       line=dict(color=BLACK, width=1.3)))
    annotations.append(dict(text=p["species"], x=dx(32), y=dy(68), xref=xd, yref=yd,
                            xanchor="left", yanchor="middle", showarrow=False,
                            font=dict(size=11, color=BLACK, family=FONT)))
    ie_txt = f"{p['ie']:g} eV"
    if p["italic"]:
        ie_txt = f"<i>{ie_txt}</i>"
    annotations.append(dict(text=ie_txt, x=dx(5), y=dy(86), xref=xd, yref=yd,
                            xanchor="left", yanchor="middle", showarrow=False,
                            font=dict(size=11, color=RED, family=FONT)))
    tail, head = ARROW_Y[p["key"]]
    fig.add_trace(arrow_trace(p["ie"], tail, head, RED, xa, ya))
    if "extra" in p:
        txt, colr, ev = p["extra"]
        annotations.append(dict(text=txt, x=dx(5), y=dy(98), xref=xd, yref=yd,
                                xanchor="left", yanchor="middle", showarrow=False,
                                font=dict(size=11, color=colr, family=FONT)))
        t2, h2 = EXTRA_ARROW_Y[p["key"]]
        fig.add_trace(arrow_trace(ev, t2, h2, colr, xa, ya))

# ---------------------------------------------------------------- inset of panel w (NO threshold)
w_idx = [p["key"] for p in PANELS].index("w")
w_row, w_col = divmod(w_idx, N_COLS)
ix0 = (w_col * PW + 77.7) / PLOT_W
ix1 = (w_col * PW + 204.3) / PLOT_W
iy1 = 1 - w_row / N_ROWS
iy0 = iy1 - 100 / PLOT_H
ni = len(PANELS) + 1
xi, yi = f"x{ni}", f"y{ni}"
layout[f"xaxis{ni}"] = dict(domain=[ix0, ix1], anchor=yi, range=[8.9, 11.1],
                            showline=True, linecolor="#808080", linewidth=1, mirror=True,
                            ticks="", tickmode="array", tickvals=[9.0, 10.0, 11.0],
                            ticktext=["9.0", "10.0", "11.0"], automargin=False,
                            tickfont=dict(size=9, color=BLACK, family=FONT),
                            showgrid=False, zeroline=False)
layout[f"yaxis{ni}"] = dict(domain=[iy0, iy1], anchor=xi, range=[-2, 98],
                            showline=True, linecolor="#808080", linewidth=1, mirror=True,
                            ticks="", showticklabels=False, showgrid=False, zeroline=False,
                            automargin=False)
ibx, iby = split(w_inset_black)
irx, iry = split(w_inset_red)
fig.add_trace(go.Scatter(x=ibx, y=iby, xaxis=xi, yaxis=yi, mode="lines",
                         line=dict(color=BLACK, width=0.9), showlegend=False, hoverinfo="skip"))
fig.add_trace(go.Scatter(x=irx, y=iry, xaxis=xi, yaxis=yi, mode="lines",
                         line=dict(color=RED, width=0.9), showlegend=False, hoverinfo="skip"))
w_ie = PANELS[w_idx]["ie"]
fig.add_trace(arrow_trace(w_ie, INSET_ARROW_Y[0], INSET_ARROW_Y[1], RED, xi, yi))

# ---------------------------------------------------------------- axis titles
annotations.append(dict(text="Normalized Photoionization Efficiency", x=-31 / PLOT_W,
                        y=0.5, xref="paper", yref="paper", textangle=-90, showarrow=False,
                        xanchor="center", yanchor="middle",
                        font=dict(size=19, color=BLACK, family=FONT)))
annotations.append(dict(text="Photoionization Energy (eV)", x=0.5, y=-18.5 / PLOT_H,
                        xref="paper", yref="paper", showarrow=False, xanchor="center",
                        yanchor="middle", font=dict(size=18, color=BLACK, family=FONT)))

fig.update_layout(
    width=W, height=H, autosize=False,
    margin=dict(l=M_L, r=M_R, t=M_T, b=M_B, pad=0, autoexpand=False),
    paper_bgcolor="white", plot_bgcolor="white",
    font=dict(family=FONT, color=BLACK),
    annotations=annotations, shapes=shapes, showlegend=False,
    **layout,
)

fig.write_html("out.html")
